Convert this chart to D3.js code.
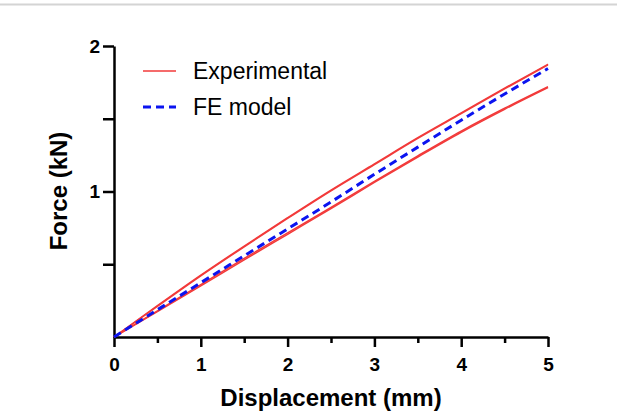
<!DOCTYPE html>
<html lang="en">
<head>
<meta charset="utf-8">
<title>Force vs displacement</title>
<script src="https://cdn.jsdelivr.net/npm/d3@7"></script>
<style>
body { margin: 0; background: #fff; }
.axis path, .axis line { stroke: #000; stroke-width: 2.5px; fill: none; }
</style>
</head>
<body>
<svg width="617" height="416"></svg>
<script>
// displacement (mm)
var disp = [0, 0.5, 1, 1.5, 2, 2.5, 3, 3.5, 4, 4.5, 5];
// experimental force curves (kN)
var exp1 = [0, 0.215, 0.425, 0.625, 0.82, 1.01, 1.19, 1.37, 1.54, 1.71, 1.875];
var exp2 = [0, 0.21, 0.42, 0.62, 0.815, 1.005, 1.185, 1.365, 1.535, 1.705, 1.87];
var exp3 = [0, 0.18, 0.36, 0.54, 0.715, 0.89, 1.07, 1.245, 1.415, 1.572, 1.72];
var exp4 = [0, 0.175, 0.352, 0.53, 0.706, 0.882, 1.062, 1.237, 1.407, 1.565, 1.714];
// FE model
var fem = [0, 0.187, 0.373, 0.558, 0.743, 0.928, 1.118, 1.305, 1.49, 1.67, 1.845];

var xTicks = [0, 1, 2, 3, 4, 5];
var xMinor = [0.5, 1.5, 2.5, 3.5, 4.5];
var yTicks = [1, 2];
var yMinor = [0.5, 1.5];

var font = "'Liberation Sans', Arial, sans-serif";
var svg = d3.select("svg");

// light rule at the top of the frame
svg.append("line").attr("x1", 0).attr("x2", 617).attr("y1", 4.5).attr("y2", 4.5)
    .attr("stroke", "#d4d4d4").attr("stroke-width", 2);

var x = d3.scaleLinear().domain([0, 5]).range([114, 548]);
var y = d3.scaleLinear().domain([0, 2]).range([337, 46]);

// minor ticks first so the axis line sits on top
svg.append("g").attr("class", "axis")
    .attr("transform", "translate(0,337)")
    .call(d3.axisBottom(x).tickValues(xMinor).tickSize(6).tickFormat(""))
    .select(".domain").remove();
svg.append("g").attr("class", "axis")
    .attr("transform", "translate(114,0)")
    .call(d3.axisLeft(y).tickValues(yMinor).tickSize(11).tickFormat(""))
    .select(".domain").remove();

var gx = svg.append("g").attr("class", "axis")
    .attr("transform", "translate(0,337)")
    .call(d3.axisBottom(x).tickValues(xTicks).tickSize(10).tickSizeOuter(0).tickPadding(11).tickFormat(d3.format("d")));
var gy = svg.append("g").attr("class", "axis")
    .attr("transform", "translate(114,0)")
    .call(d3.axisLeft(y).tickValues(yTicks).tickSize(11).tickSizeOuter(0).tickPadding(3).tickFormat(d3.format("d")));

[gx, gy].forEach(function(g) {
  g.attr("font-size", 19).attr("font-family", font).attr("font-weight", "bold");
  g.selectAll("text").attr("fill", "#000");
});

var line = d3.line()
    .x(function(d) { return x(d[0]); })
    .y(function(d) { return y(d[1]); })
    .curve(d3.curveMonotoneX);

[exp1, exp2, exp3, exp4].forEach(function(s) {
  svg.append("path")
      .datum(disp.map(function(d, i) { return [d, s[i]]; }))
      .attr("fill", "none")
      .attr("stroke", "#f23a3a")
      .attr("stroke-width", 1.5)
      .attr("d", line);
});

svg.append("path")
    .datum(disp.map(function(d, i) { return [d, fem[i]]; }))
    .attr("fill", "none")
    .attr("stroke", "#0b14f0")
    .attr("stroke-width", 3)
    .attr("stroke-dasharray", "8,5")
    .attr("d", line);

// axis titles
svg.append("text")
    .attr("x", 331).attr("y", 406)
    .attr("text-anchor", "middle")
    .style("font-family", font).style("font-weight", "bold").style("font-size", "24px")
    .text("Displacement (mm)");
svg.append("text")
    .attr("transform", "translate(67,191) rotate(-90)")
    .attr("text-anchor", "middle")
    .style("font-family", font).style("font-weight", "bold").style("font-size", "24px")
    .text("Force (kN)");

// legend
var legend = svg.append("g")
    .style("font-family", font).style("font-size", "23px");
legend.append("line").attr("x1", 143).attr("x2", 176).attr("y1", 71).attr("y2", 71)
    .attr("stroke", "#f23a3a").attr("stroke-width", 1.5);
legend.append("text").attr("x", 193).attr("y", 79).text("Experimental");
legend.append("line").attr("x1", 143).attr("x2", 176).attr("y1", 107).attr("y2", 107)
    .attr("stroke", "#0b14f0").attr("stroke-width", 3).attr("stroke-dasharray", "8,5");
legend.append("text").attr("x", 193).attr("y", 115).text("FE model");
</script>
</body>
</html>
